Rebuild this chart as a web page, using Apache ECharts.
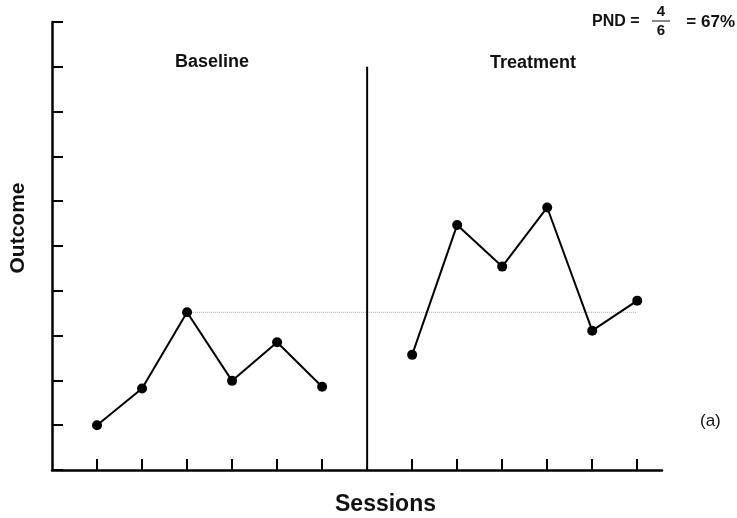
<!DOCTYPE html>
<html>
<head>
<meta charset="utf-8">
<script src="https://cdn.jsdelivr.net/npm/echarts@6/dist/echarts.min.js"></script>
<style>
  html, body { margin: 0; padding: 0; background: #fff; }
  #chartmain { width: 737px; height: 518px; }
</style>
</head>
<body>
<div id="chartmain"></div>
<script>
// 数据
var baselineSessions = [1, 2, 3, 4, 5, 6];
var baselineValues = [1.0, 1.82, 3.52, 1.99, 2.85, 1.86];
var treatmentSessions = [8, 9, 10, 11, 12, 13];
var treatmentValues = [2.57, 5.47, 4.54, 5.86, 3.11, 3.78];
var xTicks = [1, 2, 3, 4, 5, 6, 8, 9, 10, 11, 12, 13];
var phaseChange = 7;
var phaseLineTop = 9;
var pndLevel = 3.52;
var pndRange = [3, 13];

function pairs(xs, ys) {
    return xs.map(function (x, i) { return [x, ys[i]]; });
}

var font = '"Liberation Sans", Arial, sans-serif';

function label(text, x, y, size, weight, align) {
    return {
        type: 'text', x: x, y: y,
        style: {
            text: text, font: weight + ' ' + size + 'px ' + font, fill: '#111',
            align: align || 'left', verticalAlign: 'middle'
        }
    };
}

var option = {
    animation: false,
    backgroundColor: '#fff',
    grid: { left: 52, right: 75, top: 22, bottom: 48 },
    xAxis: {
        type: 'value',
        min: 0,
        max: 13.55,
        interval: 1,
        splitLine: { show: false },
        axisLine: { lineStyle: { color: '#000', width: 2.5 } },
        axisTick: { inside: true, length: 11, customValues: xTicks, lineStyle: { color: '#000', width: 2 } },
        axisLabel: { show: false }
    },
    yAxis: {
        type: 'value',
        min: 0,
        max: 10,
        interval: 1,
        splitLine: { show: false },
        axisLine: { show: true, lineStyle: { color: '#000', width: 2.5 } },
        axisTick: { show: true, inside: true, length: 11, lineStyle: { color: '#000', width: 2 } },
        axisLabel: { show: false }
    },
    series: [
        {
            // PND 虚线
            type: 'line',
            data: [[pndRange[0], pndLevel], [pndRange[1], pndLevel]],
            symbol: 'none',
            lineStyle: { color: '#aaa', width: 1, type: 'dotted' },
            z: 1
        },
        {
            // 阶段分隔线
            type: 'line',
            data: [[phaseChange, 0], [phaseChange, phaseLineTop]],
            symbol: 'none',
            lineStyle: { color: '#000', width: 2 },
            z: 2
        },
        {
            name: 'Baseline',
            type: 'line',
            data: pairs(baselineSessions, baselineValues),
            symbol: 'circle',
            symbolSize: 10,
            itemStyle: { color: '#000' },
            lineStyle: { color: '#000', width: 2 },
            z: 3
        },
        {
            name: 'Treatment',
            type: 'line',
            data: pairs(treatmentSessions, treatmentValues),
            symbol: 'circle',
            symbolSize: 10,
            itemStyle: { color: '#000' },
            lineStyle: { color: '#000', width: 2 },
            z: 3
        }
    ],
    graphic: [
        label('Baseline', 175, 62, 18, 'bold'),
        label('Treatment', 490, 63, 18, 'bold'),
        label('PND =', 592, 22, 16, 'bold'),
        label('4', 661, 12, 15, 'bold', 'center'),
        { type: 'line', shape: { x1: 652, y1: 21, x2: 670, y2: 21 }, style: { stroke: '#111', lineWidth: 1 } },
        label('6', 661, 31, 15, 'bold', 'center'),
        label('= 67%', 735, 22, 17, 'bold', 'right'),
        label('(a)', 700, 421, 17, 'normal'),
        label('Sessions', 335, 505, 23, 'bold'),
        {
            type: 'text', x: 18, y: 228, rotation: Math.PI / 2,
            style: { text: 'Outcome', font: 'bold 21px ' + font, fill: '#111', align: 'center', verticalAlign: 'middle' }
        }
    ]
};

var myChart = echarts.init(document.getElementById('chartmain'));
myChart.setOption(option);
</script>
</body>
</html>
